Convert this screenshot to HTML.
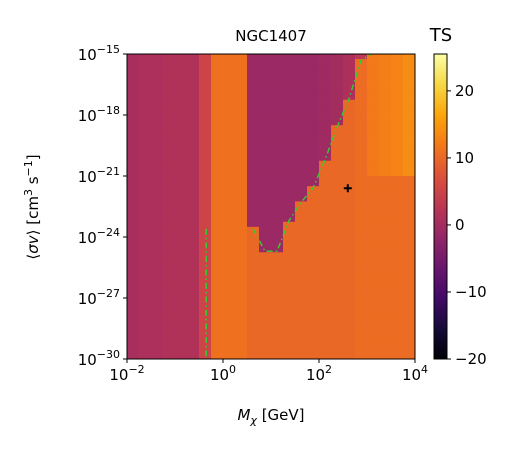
<!DOCTYPE html>
<html><head><meta charset="utf-8"><style>
body{margin:0;background:#fff;font-family:"Liberation Sans","DejaVu Sans",sans-serif;}
svg text{font-family:"DejaVu Sans","Liberation Sans",sans-serif;}
</style></head><body>
<svg id="chart" width="525" height="450" xmlns="http://www.w3.org/2000/svg"></svg>
<script>
// data: columns of log10(M/GeV), step 0.25 from -2 to 4
const colLogM = [-2,-1.75,-1.5,-1.25,-1,-0.75,-0.5,-0.25,0,0.25,0.5,0.75,1,1.25,1.5,1.75,2,2.25,2.5,2.75,3,3.25,3.5,3.75];
// TS below wedge boundary (or whole column)
const lowerTS = [0.5,1,1,1.5,1.5,1.5,5,11,11,11,10,10,10,10,10,10,10,10,10,10.5,10.5,10.5,10.5,10.5];
// TS above wedge boundary
const upperTS = [0.5,1,1,1.5,1.5,1.5,5,11,11,11,-1,-1,-1,-1,-1,-1,-0.5,0,1,3,12,12.5,13,14];
// wedge lower boundary log10(<sigma v>) ; null = no wedge
const boundary = [null,null,null,null,null,null,null,null,null,null,-23.6,-24.7,-24.7,-23.2,-22.3,-21.6,-20.2,-18.6,-17.2,-15.3,null,null,null,null];
const xTicks = [-2,0,2,4];
const yTicks = [-15,-18,-21,-24,-27,-30];
const cbTicks = [-20,-10,0,10,20];
const bestFit = [2.6,-21.6];

const svg=document.getElementById('chart');
const NS='http://www.w3.org/2000/svg';
const L=127,R=415,T=54,B=359;
const xs=v=>L+(v+2)/6*(R-L);
const ys=v=>T+(-15-v)/15*(B-T);
const vmin=-20,vmax=25.5;
const stops=[[0,'#000004'],[0.1,'#160b39'],[0.2,'#420a68'],[0.3,'#6a176e'],[0.4,'#932667'],[0.5,'#bc3754'],[0.6,'#dd513a'],[0.7,'#f37819'],[0.8,'#fca50a'],[0.9,'#f6d746'],[1,'#fcffa4']];
function hex(h){return [1,3,5].map(i=>parseInt(h.substr(i,2),16));}
function cmap(ts){let t=Math.max(0,Math.min(1,(ts-vmin)/(vmax-vmin)));
 for(let i=1;i<stops.length;i++){if(t<=stops[i][0]){const a=hex(stops[i-1][1]),b=hex(stops[i][1]);const f=(t-stops[i-1][0])/(stops[i][0]-stops[i-1][0]);
 return 'rgb('+a.map((v,k)=>Math.round(v+(b[k]-v)*f)).join(',')+')';}}return stops[10][1];}
function el(tag,attrs,txt){const e=document.createElementNS(NS,tag);for(const k in attrs)e.setAttribute(k,attrs[k]);if(txt!==undefined)e.textContent=txt;svg.appendChild(e);return e;}

const step=0.25;
for(let i=0;i<colLogM.length;i++){
 for(let s=-15;s>-30;s-=step){
  const mid=s-step/2;
  const above=boundary[i]!==null && mid>boundary[i];
  const ts= boundary[i]===null ? (i>=20 && mid>-21 ? upperTS[i] : lowerTS[i]) : (above?upperTS[i]:lowerTS[i]);
  const r=el('rect',{x:xs(colLogM[i]),y:ys(s),width:xs(colLogM[i]+0.25)-xs(colLogM[i])+0.5,height:ys(s-step)-ys(s)+0.5,fill:cmap(ts)});
  
  
 }
}
let pts=[];
for(let i=0;i<colLogM.length;i++){if(boundary[i]!==null)pts.push([xs(colLogM[i]+0.125),ys(boundary[i])]);}
pts.push([xs(3.1),ys(-15)]);
const c=el('polyline',{points:pts.map(p=>p.join(',')).join(' '),fill:'none',stroke:'#33cc33','stroke-width':1.5,'stroke-dasharray':'6,3,1.5,3'});


const c2=el('line',{x1:xs(colLogM[7]-0.1),y1:ys(-23.6),x2:xs(colLogM[7]-0.1),y2:B,stroke:'#33cc33','stroke-width':1.5,'stroke-dasharray':'6,3,1.5,3'});


const bx=xs(bestFit[0]),by=ys(bestFit[1]);
const m=el('path',{d:`M${bx-4},${by}H${bx+4}M${bx},${by-4}V${by+4}`,stroke:'#000','stroke-width':2});


const fr=el('rect',{x:L,y:T,width:R-L,height:B-T,fill:'none',stroke:'#000','stroke-width':1});


xTicks.forEach(v=>{const x=xs(v);
 el('line',{x1:x,y1:B,x2:x,y2:B+4,stroke:'#000'});
 const t=el('text',{x:x,y:B+21,'font-size':15,'text-anchor':'middle'});
 
 
 t.innerHTML='10<tspan font-size="11" dy="-7">'+(v<0?'\u2212'+(-v):v)+'</tspan>';
});
yTicks.forEach(v=>{const y=ys(v);
 el('line',{x1:L-4,y1:y,x2:L,y2:y,stroke:'#000'});
 const t=el('text',{x:L-7,y:y+6,'font-size':15,'text-anchor':'end'});
 
 
 t.innerHTML='10<tspan font-size="11" dy="-7">\u2212'+(-v)+'</tspan>';
});
const tt=el('text',{x:271,y:41,'font-size':15,'text-anchor':'middle'},'NGC1407');


const xl=el('text',{x:271,y:420,'font-size':15,'text-anchor':'middle'});


xl.innerHTML='<tspan font-style="italic">M</tspan><tspan font-size="11" dy="4" font-style="italic">χ</tspan><tspan dy="-4"> [GeV]</tspan>';
const yl=el('text',{x:0,y:0,'font-size':15,'text-anchor':'middle',transform:'translate(38,207) rotate(-90)'});


yl.innerHTML='⟨<tspan font-style="italic">σv</tspan>⟩ [cm<tspan font-size="11" dy="-6">3</tspan><tspan dy="6"> s</tspan><tspan font-size="11" dy="-6">\u22121</tspan><tspan dy="6">]</tspan>';
const defs=el('defs',{});
const g=document.createElementNS(NS,'linearGradient');g.setAttribute('id','cbg');g.setAttribute('x1',0);g.setAttribute('y1',1);g.setAttribute('x2',0);g.setAttribute('y2',0);
stops.forEach(s=>{const st=document.createElementNS(NS,'stop');st.setAttribute('offset',s[0]);st.setAttribute('stop-color',s[1]);g.appendChild(st);});
defs.appendChild(g);
const CL=434,CR=447;
const cb=el('rect',{x:CL,y:T,width:CR-CL,height:B-T,fill:'url(#cbg)',stroke:'#000','stroke-width':1});


const cy=v=>B-(v-vmin)/(vmax-vmin)*(B-T);
cbTicks.forEach(v=>{const y=cy(v);
 el('line',{x1:CR,y1:y,x2:CR+4,y2:y,stroke:'#000'});
 const t=el('text',{x:CR+8,y:y+5,'font-size':15},v<0?'\u2212'+(-v):String(v));
 
 
});
const ct=el('text',{x:441,y:41,'font-size':18,'text-anchor':'middle'},'TS');


</script>
</body></html>
